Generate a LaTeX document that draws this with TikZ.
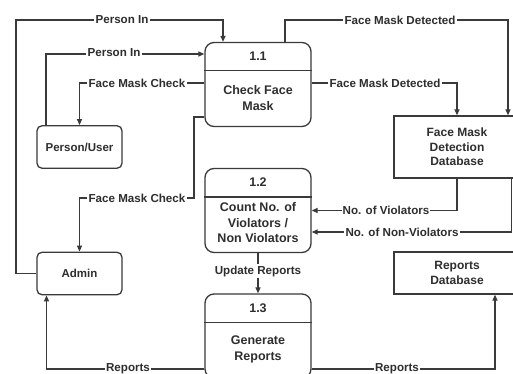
\documentclass[tikz,border=0pt]{standalone}
\usepackage{fontspec}
\setmainfont{Liberation Sans}
\usetikzlibrary{arrows.meta}
\definecolor{ln}{HTML}{3A3A3A}
\definecolor{tx}{HTML}{2E2E2E}
\begin{document}
\begin{tikzpicture}[x=1pt,y=-1pt,
  line width=1.3pt,
  arr/.style={draw=ln,-{Triangle[length=6pt,width=5pt]}},
  proc/.style={draw=ln,rounded corners=9pt,minimum width=106pt,minimum height=84pt,inner sep=0pt},
  ent/.style={draw=ln,rounded corners=5pt,minimum width=85pt,minimum height=42.5pt,inner sep=0pt,
    font=\fontsize{11.5}{14}\selectfont\bfseries,text=tx},
  store/.style={draw=ln,minimum width=126pt,inner sep=0pt,align=center,
    font=\fontsize{12}{14.5}\selectfont\bfseries,text=tx},
  ptitle/.style={font=\fontsize{12.5}{15}\selectfont\bfseries,text=tx,inner sep=0pt},
  pbody/.style={font=\fontsize{12.5}{15.5}\selectfont\bfseries,text=tx,align=center,inner sep=0pt},
  lbl/.style={fill=white,font=\fontsize{11.6}{13.5}\selectfont\bfseries,text=tx,inner sep=1.2pt}]
\clip (0,0) rectangle (513,374);
\fill[white] (0,0) rectangle (513,374);

% processes
\node[proc] (p11) at (258,84.5) {};
\node[proc] (p12) at (258,210.5) {};
\node[proc] (p13) at (258,336) {};
\foreach \p in {p11,p12,p13}{
  \draw[ln] ([yshift=-29pt]\p.north west) -- ([yshift=-29pt]\p.north east);
}
\node[ptitle] (p11t) at ([yshift=-14.5pt]p11.north) {1.1};
\node[pbody] (p11b) at ([yshift=-56pt]p11.north) {Check Face\\Mask};
\node[ptitle] (p12t) at ([yshift=-14.5pt]p12.north) {1.2};
\node[pbody] (p12b) at ([yshift=-55pt]p12.north) {Count No. of\\Violators /\\Non Violators};
\node[ptitle] (p13t) at ([yshift=-14.5pt]p13.north) {1.3};
\node[pbody] (p13b) at ([yshift=-56pt]p13.north) {Generate\\Reports};

% entities
\node[ent] (person) at (79.5,147) {Person/User};
\node[ent] (admin) at (79.5,273.5) {Admin};

% stores
\node[store,minimum height=62pt] (fmdb) at (457,147) {Face Mask\\Detection\\Database};
\node[store,minimum height=42pt] (rdb) at (457,273) {Reports\\Database};

% connectors
\draw[arr] (admin.west) -| (16,20) -| ([xshift=-35pt]p11.north);
\draw[arr] ([xshift=-33.5pt]person.north) |- ([yshift=30.5pt]p11.west);
\draw[arr] ([yshift=1.5pt]p11.west) -| (person.north);
\draw[arr] ([yshift=-32.5pt]p11.west) -| (194,198) -| (admin.north);
\draw[arr] ([xshift=27pt]p11.north) |- (508,20) -- ([xshift=51pt]fmdb.north);
\draw[arr] ([yshift=1.5pt]p11.east) -| (fmdb.north);
\draw[arr] (fmdb.south) |- (p12.east);
\draw[arr] ([xshift=54.5pt]fmdb.south) |- ([yshift=-21.5pt]p12.east);
\draw[arr] (p12.south) -- (p13.north);
\draw[arr] ([yshift=-33pt]p13.west) -| ([xshift=-33pt]admin.south);
\draw[arr] ([yshift=-33pt]p13.east) -| ([xshift=38pt]rdb.south);

% labels
\node[lbl] (l1) at (122,20) {Person In};
\node[lbl] (l2) at (114,53) {Person In};
\node[lbl] (l3) at (137,83) {Face Mask Check};
\node[lbl] (l4) at (137,198) {Face Mask Check};
\node[lbl] (l5) at (400,20) {Face Mask Detected};
\node[lbl] (l6) at (385,83) {Face Mask Detected};
\node[lbl] (l7) at (386,210.5) {No. of Violators};
\node[lbl] (l8) at (402,232) {No. of Non-Violators};
\node[lbl] (l9) at (258,271) {Update Reports};
\node[lbl] (l10) at (128,368.5) {Reports};
\node[lbl] (l11) at (397,368.5) {Reports};
\end{tikzpicture}
\end{document}
